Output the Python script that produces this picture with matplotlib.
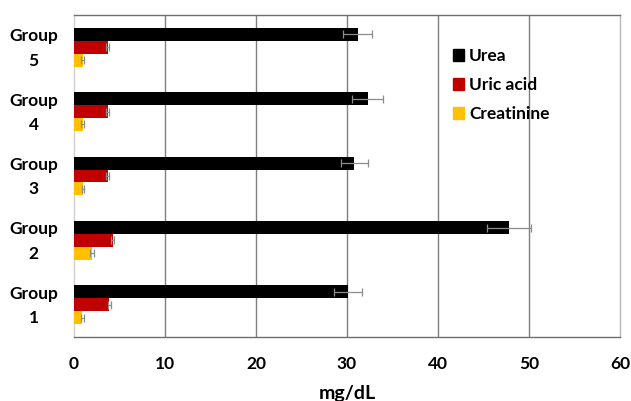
import matplotlib
matplotlib.use("Agg")
import matplotlib.pyplot as plt
import numpy as np
from matplotlib.patches import Patch

groups = ["Group\n1", "Group\n2", "Group\n3", "Group\n4", "Group\n5"]
urea = [30.1, 47.8, 30.8, 32.3, 31.2]
urea_err = [1.5, 2.4, 1.5, 1.7, 1.6]
uric_acid = [3.9, 4.25, 3.7, 3.7, 3.7]
uric_acid_err = [0.2, 0.2, 0.2, 0.2, 0.2]
creatinine = [0.9, 1.95, 1.0, 0.95, 0.95]
creatinine_err = [0.15, 0.2, 0.15, 0.15, 0.15]
xticks = [0, 10, 20, 30, 40, 50, 60]

plt.rcParams['font.family'] = ['Lato', 'DejaVu Sans']

fig = plt.figure(figsize=(6.31, 4.01), dpi=100)
ax = fig.add_axes([74/631, 1 - 337/401, 546/631, 322/401])

y = np.arange(len(groups))
h = 0.2
err_kw = dict(ecolor="#8c8c8c", elinewidth=0.9, capsize=3, capthick=0.9)

ax.barh(y + h, urea, height=h, color="#000000", xerr=urea_err, error_kw=err_kw, zorder=3, label="Urea")
ax.barh(y, uric_acid, height=h, color="#C00000", xerr=uric_acid_err, error_kw=err_kw, zorder=3, label="Uric acid")
ax.barh(y - h, creatinine, height=h, color="#FFC000", xerr=creatinine_err, error_kw=err_kw, zorder=3, label="Creatinine")

ax.set_xlim(0, 60)
ax.set_ylim(-0.5, 4.5)
ax.set_xticks(xticks)
ax.set_xticklabels([str(t) for t in xticks], fontsize=12.5, fontweight="bold")
# group labels sit slightly above the centre of each bar cluster
ax.set_yticks(y + 0.07)
ax.set_yticklabels(groups, fontsize=12.5, fontweight="bold", ha="center", linespacing=1.65)
ax.tick_params(axis="y", length=0, pad=29)
ax.tick_params(axis="x", length=0, pad=14)

for v in xticks[1:-1]:
    ax.axvline(v, color="#7f7f7f", linewidth=1.0, zorder=1)

ax.spines["top"].set_color("#6e6e6e")
ax.spines["bottom"].set_color("#6e6e6e")
ax.spines["left"].set_color("#d0d0d0")
ax.spines["right"].set_color("#b8b8b8")
for s in ax.spines.values():
    s.set_linewidth(1.0)

ax.set_xlabel("mg/dL", fontsize=14, fontweight="bold", labelpad=9)

handles = [Patch(color="#000000"), Patch(color="#C00000"), Patch(color="#FFC000")]
leg = ax.legend(handles, ["Urea", "Uric acid", "Creatinine"], loc="upper left",
                bbox_to_anchor=(0.665, 0.945), frameon=False,
                handlelength=0.65, handleheight=0.65, handletextpad=0.3,
                labelspacing=0.75, prop=dict(family="Lato", weight="bold", size=12.5))

fig.savefig("out.png", dpi=100)
